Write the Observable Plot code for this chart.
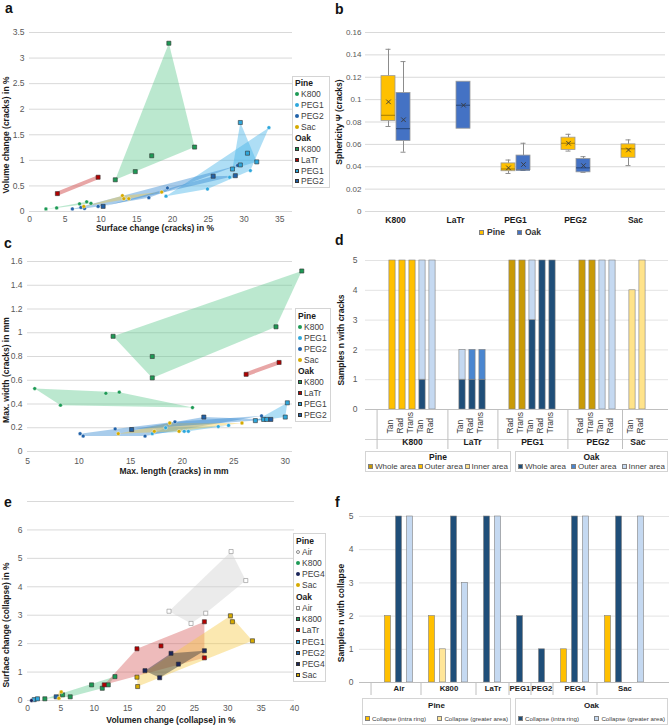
<!DOCTYPE html>
<html>
<head>
<meta charset="utf-8">
<script src="https://cdn.jsdelivr.net/npm/d3@7"></script>
<script src="https://cdn.jsdelivr.net/npm/@observablehq/plot@0.6"></script>
<style>
  html, body { margin: 0; padding: 0; background: #fff; }
  #fig { position: relative; width: 669px; height: 726px; overflow: hidden; background: #fff;
         font-family: "Liberation Sans", Arial, sans-serif; color: #404040; }
  #fig > svg { position: absolute; }
  .letter { position: absolute; font: bold 14px "Liberation Sans", Arial, sans-serif; color: #111; line-height: 14px; }
  .title { position: absolute; font: bold 8.5px "Liberation Sans", Arial, sans-serif; color: #1a1a1a; white-space: nowrap; line-height: 1; }
  .ytitle { transform: translate(-50%, -50%) rotate(-90deg); }
  .xtitle { transform: translate(-50%, -50%); }
  .lbox { position: absolute; box-sizing: border-box; border: 1px solid #d4d4d4; background: #fff; font-size: 8.5px; color: #404040; }
  .lbox .row { display: flex; align-items: center; white-space: nowrap; padding-left: 2px; }
  .lbox .hdr { font-weight: bold; color: #1a1a1a; }
  .mk { display: inline-block; box-sizing: border-box; margin-right: 2px; flex: none; }
  .abox { position: absolute; box-sizing: border-box; border: 1px solid #d4d4d4; background: #fff; color: #404040; }
  .abox .t { text-align: center; font-weight: bold; color: #1a1a1a; }
  .abox .items { display: flex; justify-content: space-between; padding: 0 2px; white-space: nowrap; }
  .abox .it { display: flex; align-items: center; }
</style>
</head>
<body>
<div id="fig"></div>
<script>
// ---------------- Panel a: surface vs volume change of cracks (%) ----------------
const aPineK800 = [[2.3,0.05],[3.8,0.07],[7.0,0.15],[8.0,0.19],[8.6,0.16]];
const aPinePEG1 = [[19.1,0.30],[24.9,0.44],[28.0,0.67],[30.9,0.80],[33.5,1.64]];
const aPinePEG2 = [[6.0,0.05],[7.2,0.08],[7.7,0.06],[9.6,0.10],[16.7,0.27],[19.3,0.46],[29.1,0.90]];
const aPineSac  = [[7.6,0.10],[13.0,0.31],[13.2,0.25],[13.9,0.25],[18.5,0.38]];
const aOakK800  = [[12.0,0.62],[14.8,0.78],[17.1,1.09],[19.5,3.29],[23.1,1.26]];
const aOakLaTr  = [[3.9,0.35],[9.6,0.67]];
const aOakPEG1  = [[28.4,0.83],[29.5,0.91],[29.5,1.74],[30.5,1.14],[31.8,0.97]];
const aOakPEG2  = [[10.3,0.10],[25.7,0.69],[28.8,0.70]];

// ---------------- Panel b: sphericity of cracks (box summaries) ----------------
const boxGroups  = ["K800","LaTr","PEG1","PEG2","Sac"];
const boxTreat   = ["K800","K800","LaTr","PEG1","PEG1","PEG2","PEG2","Sac"];
const boxSpecies = ["Pine","Oak","Oak","Pine","Oak","Pine","Oak","Pine"];
const boxMin  = [0.076,0.053,null, 0.034,0.037,0.054,0.035,0.041];
const boxQ1   = [0.081,0.063,0.074,0.036,0.037,0.055,0.035,0.048];
const boxMed  = [0.086,0.074,0.095,0.038,0.037,0.061,0.039,0.056];
const boxQ3   = [0.121,0.106,0.116,0.043,0.050,0.066,0.047,0.060];
const boxMax  = [0.145,0.134,null, 0.046,0.061,0.069,0.049,0.064];
const boxMean = [0.098,0.082,0.095,0.039,0.042,0.061,0.041,0.055];

// ---------------- Panel c: max. length vs max. width of cracks (mm) ----------------
const cPineK800 = [[5.7,0.53],[8.2,0.39],[12.6,0.49],[13.9,0.50],[21.0,0.37]];
const cPinePEG1 = [[17.1,0.15],[18.4,0.20],[20.2,0.17],[20.6,0.17],[23.5,0.21],[24.5,0.22]];
const cPinePEG2 = [[10.1,0.15],[10.4,0.13],[13.5,0.19],[16.4,0.13],[19.3,0.25],[27.7,0.30]];
const cPineSac  = [[13.8,0.15],[17.3,0.17],[18.8,0.24],[19.7,0.17],[25.8,0.24]];
const cOakK800  = [[13.3,0.97],[17.1,0.80],[17.1,0.62],[29.1,1.05],[31.6,1.52]];
const cOakLaTr  = [[26.2,0.65],[29.4,0.75]];
const cOakPEG1  = [[27.1,0.26],[27.9,0.27],[28.2,0.27],[30.0,0.29],[30.2,0.41]];
const cOakPEG2  = [[15.1,0.185],[22.1,0.29],[28.6,0.27]];

// ---------------- Panel d: samples with cracks ----------------
const crackGroups  = ["K800","LaTr","PEG1","PEG2","Sac"];
const crackGroup   = ["K800","K800","K800","K800","K800","LaTr","LaTr","LaTr","PEG1","PEG1","PEG1","PEG1","PEG1","PEG2","PEG2","PEG2","PEG2","Sac","Sac"];
const crackCut     = ["Tan","Rad","Trans","Tan","Rad","Tan","Rad","Trans","Rad","Trans","Tan","Rad","Trans","Rad","Trans","Tan","Rad","Tan","Rad"];
const crackSpecies = ["Pine","Pine","Pine","Oak","Oak","Oak","Oak","Oak","Pine","Pine","Oak","Oak","Oak","Pine","Pine","Oak","Oak","Pine","Pine"];
const crackWhole   = [0,0,0,1,0, 1,1,1, 5,5,3,5,5, 5,5,0,0, 0,0];
const crackOuter   = [5,5,5,0,0, 0,1,1, 0,0,0,0,0, 0,0,0,0, 0,0];
const crackInner   = [0,0,0,4,5, 1,0,0, 0,0,2,0,0, 0,0,5,5, 4,5];
const crackGaps    = [2,2,2,1];

// ---------------- Panel e: volume vs surface change of collapse (%) ----------------
const eOakAir   = [[21.2,3.14],[24.5,2.71],[26.7,3.07],[30.5,5.24],[32.7,4.22]];
const eOakK800  = [[2.6,0.06],[5.25,0.20],[6.4,0.13],[9.6,0.55],[11.2,0.43],[12.1,0.55],[13.1,0.84]];
const eOakLaTr  = [[11.5,0.55],[16.4,1.82],[20.0,1.92],[26.5,2.77],[26.5,1.50]];
const eOakPEG1  = [[1.0,0.03],[1.5,0.06]];
const eOakPEG2  = [[4.3,0.13]];
const eOakPEG4  = [[17.6,1.05],[19.8,0.80],[21.5,1.66],[22.6,1.28],[26.5,1.75]];
const eOakSac   = [[16.4,0.82],[16.5,0.49],[30.4,2.98],[30.7,2.77],[33.7,2.10]];
const ePinePEG4 = [[0.6,0.0]];
const ePineSac  = [[4.7,0.08],[5.05,0.30]];

// ---------------- Panel f: samples with collapse ----------------
const collapseGroups  = ["Air","K800","LaTr","PEG1","PEG2","PEG4","Sac"];
const collapseGroup   = ["Air","Air","Air","K800","K800","K800","K800","LaTr","LaTr","PEG1","PEG2","PEG4","PEG4","PEG4","Sac","Sac","Sac","Sac"];
const collapseSpecies = ["Pine","Oak","Oak","Pine","Pine","Oak","Oak","Oak","Oak","Oak","Oak","Pine","Oak","Oak","Pine","Oak","Pine","Oak"];
const collapseKind    = ["intra","intra","greater","intra","greater","intra","greater","intra","greater","intra","intra","intra","intra","greater","intra","intra","greater","greater"];
const collapseN       = [2,5,5, 2,1,5,3, 5,5, 2, 1, 1,5,5, 2,5,0,5];
const collapseGaps    = [1,1,1,1,1,1];

// ---------------- shared styling ----------------
const dotColor  = {K800:"#1d9a55", PEG1:"#2ea7dc", PEG2:"#2162a9", PEG4:"#1b2559", Sac:"#d6aa00", LaTr:"#b40000", Air:"#ffffff"};
const hullColor = {K800:"#5cc98c", PEG1:"#3fb0e8", PEG2:"#2f86d0", PEG4:"#2a3038", Sac:"#f5c842", LaTr:"#d65c5c", Air:"#cfcfcf"};
const fmt = d3.format("~g");
const style = {fontFamily: '"Liberation Sans", Arial, sans-serif', fontSize: "8.5px", color: "#595959", background: "transparent", overflow: "visible"};
const fig = document.getElementById("fig");

function put(node, left, top) { node.style.left = left + "px"; node.style.top = top + "px"; fig.appendChild(node); return node; }
function div(cls, text) { const d = document.createElement("div"); if (cls) d.className = cls; if (text != null) d.textContent = text; return d; }
function letter(t, x, y) { put(div("letter", t), x, y); }
function ytitle(t, x, y) { put(div("title ytitle", t), x, y); }
function xtitle(t, x, y) { put(div("title xtitle", t), x, y); }

function marker(species, treat, size) {
  const m = div("mk");
  m.style.width = m.style.height = size + "px";
  m.style.background = dotColor[treat];
  if (species === "Pine") { m.style.borderRadius = "50%"; m.style.border = treat === "Air" ? "0.8px solid #8c8c8c" : "none"; }
  else m.style.border = treat === "Air" ? "0.8px solid #8c8c8c" : "0.7px solid #333";
  return m;
}

function scatterLegend(left, top, width, height, groups) {
  const box = div("lbox");
  box.style.width = width + "px"; box.style.height = height + "px";
  const n = groups.reduce((s, g) => s + 1 + g[1].length, 0);
  const rh = (height - 3) / n;
  box.style.paddingTop = "1px";
  for (const [species, treats] of groups) {
    const h = div("row hdr", species); h.style.height = rh + "px"; box.appendChild(h);
    for (const t of treats) {
      const r = div("row"); r.style.height = rh + "px";
      r.appendChild(marker(species, t, 4)); r.appendChild(document.createTextNode(t));
      box.appendChild(r);
    }
  }
  put(box, left, top);
}

function scatter(series, o) {
  const pts = s => s.pts.map(([x, y]) => ({x, y}));
  const marks = [Plot.gridY({ticks: o.grid, stroke: "#d9d9d9", strokeOpacity: 1})];
  for (const s of series) if (s.pts.length >= 3)
    marks.push(Plot.hull(pts(s), {x: "x", y: "y", fill: hullColor[s.treat], fillOpacity: 0.42, stroke: "none"}));
  for (const s of series) if (s.pts.length === 2)
    marks.push(Plot.line(pts(s), {x: "x", y: "y", stroke: hullColor[s.treat], strokeOpacity: 0.55, strokeWidth: 4}));
  for (const s of series) {
    const oak = s.species === "Oak";
    marks.push(Plot.dot(pts(s), {x: "x", y: "y", symbol: oak ? "square" : "circle", r: oak ? 2.3 : 1.9,
      fill: dotColor[s.treat], stroke: s.treat === "Air" ? "#8c8c8c" : (oak ? "#333" : "#fff"), strokeWidth: oak ? 0.6 : 0.4}));
  }
  marks.push(Plot.axisX({ticks: o.xTicks, tickSize: 0, tickPadding: o.xPad ?? 4, tickFormat: fmt, label: null}));
  marks.push(Plot.axisY({ticks: o.yTicks, tickSize: 0, tickPadding: 5, tickFormat: fmt, label: null}));
  const svg = Plot.plot({width: o.width, height: o.height, marginLeft: o.ml, marginRight: o.mr, marginTop: o.mt, marginBottom: o.mb,
    x: {domain: o.xDomain}, y: {domain: o.yDomain}, style, marks});
  put(svg, o.left, o.top);
}

// slot layout for category bar charts: bars, blank gaps, group separators and labels
function slotLayout(groupOf, groups, gaps) {
  const domain = ["lead"], keys = [], seps = [{key: "lead", half: -1}], labels = [];
  groups.forEach((g, gi) => {
    const gkeys = [];
    groupOf.forEach((gg, i) => { if (gg === g) { keys[i] = `${g}:${i}`; gkeys.push(keys[i]); } });
    domain.push(...gkeys);
    const n = gkeys.length;
    labels.push(n % 2 ? {key: gkeys[(n - 1) / 2], text: g, half: 0} : {key: gkeys[n / 2 - 1], text: g, half: 1});
    if (gi < gaps.length) {
      const gk = d3.range(gaps[gi]).map(j => `gap${gi}:${j}`);
      domain.push(...gk);
      const m = gk.length;
      seps.push(m % 2 ? {key: gk[(m - 1) / 2], half: 0} : {key: gk[m / 2 - 1], half: 1});
    }
  });
  domain.push("tail");
  return {domain, keys, seps, labels};
}
function shifted(data, step, make) {
  return [-1, 0, 1].map(h => make(data.filter(d => d.half === h), h * step / 2));
}

function areaLegend(left, top, width, height, title, items, fs, titleFs) {
  const box = div("abox");
  box.style.width = width + "px"; box.style.height = height + "px";
  const t = div("t", title); t.style.fontSize = titleFs + "px"; t.style.lineHeight = (height / 2) + "px"; box.appendChild(t);
  const row = div("items"); row.style.fontSize = fs + "px"; row.style.lineHeight = (height / 2 - 2) + "px";
  for (const [label, color] of items) {
    const it = div("it");
    const m = div("mk"); m.style.width = m.style.height = "5px"; m.style.background = color; m.style.border = "0.6px solid #808080";
    it.appendChild(m); it.appendChild(document.createTextNode(label)); row.appendChild(it);
  }
  box.appendChild(row);
  put(box, left, top);
}

// ================= a =================
scatter([
  {species: "Pine", treat: "K800", pts: aPineK800}, {species: "Pine", treat: "PEG1", pts: aPinePEG1},
  {species: "Pine", treat: "PEG2", pts: aPinePEG2}, {species: "Pine", treat: "Sac", pts: aPineSac},
  {species: "Oak", treat: "K800", pts: aOakK800}, {species: "Oak", treat: "LaTr", pts: aOakLaTr},
  {species: "Oak", treat: "PEG1", pts: aOakPEG1}, {species: "Oak", treat: "PEG2", pts: aOakPEG2}
], {left: 0, top: 0, width: 335, height: 235, ml: 29, mr: 43, mt: 32, mb: 24,
    xDomain: [0, 36.8], yDomain: [0, 3.5], xTicks: d3.range(0, 36, 5), yTicks: d3.range(0, 3.6, 0.5), grid: d3.range(0, 3.6, 0.5)});
scatterLegend(292, 76, 38, 112, [["Pine", ["K800","PEG1","PEG2","Sac"]], ["Oak", ["K800","LaTr","PEG1","PEG2"]]]);
letter("a", 5, 1);
ytitle("Volume change (cracks) in %", 6, 135);
xtitle("Surface change (cracks) in %", 155, 228);

// ================= b =================
{
  const rows = boxTreat.map((t, i) => ({treat: t, species: boxSpecies[i], min: boxMin[i], q1: boxQ1[i], med: boxMed[i], q3: boxQ3[i], max: boxMax[i], mean: boxMean[i]}));
  const wh = rows.filter(d => d.min != null);
  const ticks = d3.range(0, 0.161, 0.02).map(v => +v.toFixed(2));
  const pos = {fx: "treat", x: "species"};
  const svg = Plot.plot({
    width: 334, height: 240, marginLeft: 30, marginRight: 4, marginTop: 32, marginBottom: 29,
    fx: {domain: boxGroups, padding: 0},
    x: {domain: ["Pine", "Oak"], paddingInner: 0.067, paddingOuter: 1.03, axis: null},
    y: {domain: [0, 0.16]},
    color: {domain: ["Pine", "Oak"], range: ["#FFC000", "#4472C4"]},
    style,
    marks: [
      Plot.gridY({ticks, stroke: "#d9d9d9", strokeOpacity: 1}),
      Plot.ruleX(wh, {...pos, y1: "min", y2: "q1", stroke: "#8c8c8c"}),
      Plot.ruleX(wh, {...pos, y1: "q3", y2: "max", stroke: "#8c8c8c"}),
      Plot.tickY(wh, {...pos, y: "min", stroke: "#8c8c8c", insetLeft: 4.5, insetRight: 4.5}),
      Plot.tickY(wh, {...pos, y: "max", stroke: "#8c8c8c", insetLeft: 4.5, insetRight: 4.5}),
      Plot.barY(rows, {...pos, y1: "q1", y2: "q3", fill: "species", stroke: "#9a9a9a", strokeWidth: 0.8}),
      Plot.tickY(rows.filter(d => d.species === "Pine"), {...pos, y: "med", stroke: "#9a7400", strokeWidth: 0.9}),
      Plot.tickY(rows.filter(d => d.species === "Oak"), {...pos, y: "med", stroke: "#23406e", strokeWidth: 0.9}),
      Plot.dot(rows, {...pos, y: "mean", symbol: "times", r: 2.2, stroke: "#3a3a3a", strokeWidth: 0.9}),
      Plot.axisY({ticks, tickSize: 0, tickPadding: 4, tickFormat: fmt, label: null, fontSize: 8}),
      Plot.axisFx({anchor: "bottom", tickSize: 0, tickPadding: 5, label: null, fontWeight: "bold", fill: "#1a1a1a"})
    ]
  });
  put(svg, 335, 0);
  const lg = div(null); lg.style.position = "absolute"; lg.style.display = "flex"; lg.style.gap = "12px";
  lg.style.font = 'bold 8.5px "Liberation Sans", Arial, sans-serif'; lg.style.color = "#333";
  for (const [name, c] of [["Pine", "#FFC000"], ["Oak", "#4472C4"]]) {
    const it = div(null); it.style.display = "flex"; it.style.alignItems = "center";
    const m = div("mk"); m.style.width = m.style.height = "5px"; m.style.background = c; m.style.border = "0.6px solid #808080"; m.style.marginRight = "3px";
    it.appendChild(m); it.appendChild(document.createTextNode(name)); lg.appendChild(it);
  }
  put(lg, 479, 227);
  letter("b", 335, 2);
  ytitle("Sphericity \u03A8 (cracks)", 339, 122);
}

// ================= c =================
scatter([
  {species: "Pine", treat: "K800", pts: cPineK800}, {species: "Pine", treat: "PEG1", pts: cPinePEG1},
  {species: "Pine", treat: "PEG2", pts: cPinePEG2}, {species: "Pine", treat: "Sac", pts: cPineSac},
  {species: "Oak", treat: "K800", pts: cOakK800}, {species: "Oak", treat: "LaTr", pts: cOakLaTr},
  {species: "Oak", treat: "PEG1", pts: cOakPEG1}, {species: "Oak", treat: "PEG2", pts: cOakPEG2}
], {left: 0, top: 240, width: 335, height: 235, ml: 27, mr: 43, mt: 21, mb: 24, xPad: 6,
    xDomain: [5, 30.7], yDomain: [0, 1.6], xTicks: d3.range(5, 31, 5), yTicks: d3.range(0, 1.61, 0.2).map(v => +v.toFixed(1)), grid: d3.range(0, 1.61, 0.2).map(v => +v.toFixed(1))});
scatterLegend(295, 308, 36, 114, [["Pine", ["K800","PEG1","PEG2","Sac"]], ["Oak", ["K800","LaTr","PEG1","PEG2"]]]);
letter("c", 4, 236);
ytitle("Max. width (cracks) in mm", 6, 370);
xtitle("Max. length (cracks) in mm", 174, 471);

// ================= d =================
{
  const L = slotLayout(crackGroup, crackGroups, crackGaps);
  const frameW = 334 - 30 - 1, step = frameW / L.domain.length;
  const rows = [];
  crackGroup.forEach((g, i) => {
    [["Whole area", crackWhole], ["Outer area", crackOuter], ["Inner area", crackInner]].forEach(([a, arr]) => {
      if (arr[i] > 0) rows.push({slot: L.keys[i], n: arr[i], cat: `${crackSpecies[i]} ${a}`});
    });
  });
  const cuts = crackCut.map((c, i) => ({slot: L.keys[i], cut: c}));
  const areaCats = ["Pine Whole area", "Pine Outer area", "Pine Inner area", "Oak Whole area", "Oak Outer area", "Oak Inner area"];
  const areaColors = ["#C99A06", "#FFC000", "#FFE38A", "#1F4E79", "#4A86D0", "#C5D9F1"];
  const svg = Plot.plot({
    width: 334, height: 212, marginLeft: 30, marginRight: 1, marginTop: 20, marginBottom: 43,
    x: {domain: L.domain, padding: 0, axis: null},
    y: {domain: [0, 5]},
    color: {domain: areaCats, range: areaColors},
    style,
    marks: [
      Plot.gridY({ticks: [1, 2, 3, 4, 5], stroke: "#e3e3e3", strokeOpacity: 1}),
      Plot.barY(rows, {x: "slot", y: "n", fill: "cat", stroke: "#808080", strokeWidth: 0.6, insetLeft: 1.9, insetRight: 1.9}),
      Plot.ruleY([0], {stroke: "#bfbfbf"}),
      Plot.ruleY([0], {stroke: "#d0d0d0", dy: 30}),
      ...shifted(L.seps, step, (data, dx) => Plot.ruleX(data, {x: "key", dx, insetTop: 109, dy: 40, stroke: "#bfbfbf"})),
      Plot.text(cuts, {x: "slot", text: "cut", frameAnchor: "bottom", rotate: -90, textAnchor: "start", dy: 24, fill: "#404040"}),
      ...shifted(L.labels, step, (data, dx) => Plot.text(data, {x: "key", text: "text", dx, frameAnchor: "bottom", dy: 35, fontWeight: "bold", fill: "#1a1a1a"})),
      Plot.axisY({ticks: [0, 1, 2, 3, 4, 5], tickSize: 0, tickPadding: 8, tickFormat: fmt, label: null})
    ]
  });
  put(svg, 335, 240);
  areaLegend(365, 451, 146, 21, "Pine", [["Whole area", areaColors[0]], ["Outer area", areaColors[1]], ["Inner area", areaColors[2]]], 8, 8.5);
  areaLegend(515, 451, 153, 21, "Oak", [["Whole area", areaColors[3]], ["Outer area", areaColors[4]], ["Inner area", areaColors[5]]], 8, 8.5);
  letter("d", 335, 233);
  ytitle("Samples n  with cracks", 341, 340);
}

// ================= e =================
scatter([
  {species: "Oak", treat: "Air", pts: eOakAir}, {species: "Oak", treat: "K800", pts: eOakK800},
  {species: "Oak", treat: "LaTr", pts: eOakLaTr}, {species: "Oak", treat: "Sac", pts: eOakSac},
  {species: "Oak", treat: "PEG4", pts: eOakPEG4}, {species: "Oak", treat: "PEG1", pts: eOakPEG1},
  {species: "Oak", treat: "PEG2", pts: eOakPEG2}, {species: "Pine", treat: "PEG4", pts: ePinePEG4},
  {species: "Pine", treat: "Sac", pts: ePineSac}
], {left: 0, top: 470, width: 335, height: 256, ml: 27, mr: 41, mt: 31, mb: 26,
    xDomain: [0, 40], yDomain: [0, 7], xTicks: d3.range(0, 41, 5), yTicks: d3.range(0, 7), grid: d3.range(0, 8)});
scatterLegend(293, 533, 33, 149, [["Pine", ["Air","K800","PEG4","Sac"]], ["Oak", ["Air","K800","LaTr","PEG1","PEG2","PEG4","Sac"]]]);
letter("e", 4, 495);
ytitle("Surface change (collapse) in %", 6, 625);
xtitle("Volumen change (collapse) in %", 171, 720);

// ================= f =================
{
  const L = slotLayout(collapseGroup, collapseGroups, collapseGaps);
  const frameW = 334 - 24, step = frameW / L.domain.length;
  const rows = collapseGroup.map((g, i) => ({slot: L.keys[i], n: collapseN[i], cat: `${collapseSpecies[i]} ${collapseKind[i]}`})).filter(d => d.n > 0);
  const cats = ["Pine intra", "Pine greater", "Oak intra", "Oak greater"];
  const colors = ["#FFC000", "#FFE699", "#1F4E79", "#C5D9F1"];
  const svg = Plot.plot({
    width: 334, height: 228, marginLeft: 24, marginRight: 0, marginTop: 46, marginBottom: 16,
    x: {domain: L.domain, padding: 0, axis: null},
    y: {domain: [0, 5]},
    color: {domain: cats, range: colors},
    style,
    marks: [
      Plot.gridY({ticks: [1, 2, 3, 4, 5], stroke: "#e3e3e3", strokeOpacity: 1}),
      Plot.barY(rows, {x: "slot", y: "n", fill: "cat", stroke: "#808080", strokeWidth: 0.6, insetLeft: 2.5, insetRight: 2.5}),
      Plot.ruleY([0], {stroke: "#bfbfbf"}),
      ...shifted(L.seps, step, (data, dx) => Plot.ruleX(data, {x: "key", dx, insetTop: 153, dy: 13, stroke: "#bfbfbf"})),
      ...shifted(L.labels, step, (data, dx) => Plot.text(data, {x: "key", text: "text", dx, frameAnchor: "bottom", dy: 8, fontWeight: "bold", fontSize: 7.8, fill: "#1a1a1a"})),
      Plot.axisY({ticks: [0, 1, 2, 3, 4, 5], tickSize: 0, tickPadding: 6, tickFormat: fmt, label: null})
    ]
  });
  put(svg, 335, 470);
  areaLegend(362, 698, 149, 27, "Pine", [["Collapse (intra ring)", colors[0]], ["Collapse (greater area)", colors[1]]], 6.2, 8);
  areaLegend(515, 698, 153, 27, "Oak", [["Collapse (intra ring)", colors[2]], ["Collapse (greater area)", colors[3]]], 6.2, 8);
  letter("f", 335, 495);
  ytitle("Samples n with collapse", 341, 613);
}
</script>
</body>
</html>
